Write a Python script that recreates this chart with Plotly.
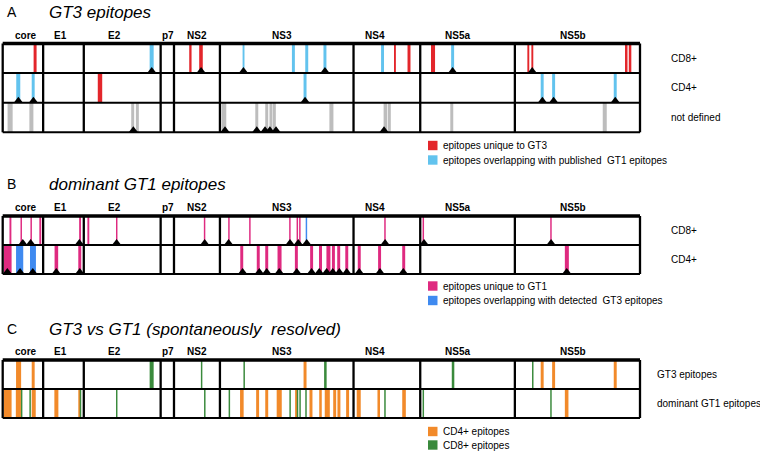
import plotly.graph_objects as go

FONT = "Liberation Sans, Arial, Helvetica, sans-serif"
W, H = 760, 453

# ---------------- genome map (H77 amino-acid numbering) ----------------
PROTEINS = ["core", "E1", "E2", "p7", "NS2", "NS3", "NS4", "NS5a", "NS5b"]
PROTEIN_END = [191, 383, 746, 809, 1026, 1657, 1972, 2419, 3010]
PROTEIN_LABEL_AA = [108, 271, 526, 781, 916, 1321, 1758, 2148, 2694]
GENOME_START = 0

# ---------------- Panel A: GT3 epitopes (start aa, length aa) ----------------
A_CD8_UNIQUE = [(146, 14), (881, 11), (928, 17), (1848, 9), (1912, 14), (2023, 19),
                (2478, 9), (2497, 9), (2939, 12), (2957, 12)]
A_CD8_OVERLAP = [(694, 19), (1133, 9), (1366, 14), (1429, 14), (1515, 14), (1787, 14), (2118, 14)]
A_CD8_MARK = [704, 937, 1137, 1522, 2125, 2501]
A_CD4_UNIQUE = [(449, 21)]
A_CD4_OVERLAP = [(64, 19), (137, 14), (1421, 14), (2541, 14), (2595, 14), (2886, 14)]
A_CD4_MARK = [74, 145, 1428, 2549, 2602, 2893]
A_ND = [(23, 24), (126, 19), (607, 14), (629, 14), (1034, 22), (1193, 14), (1240, 14),
        (1260, 14), (1276, 14), (1543, 19), (1799, 17), (1819, 14), (2114, 14), (2834, 19)]
A_ND_MARK = [617, 1050, 1200, 1239, 1262, 1291, 1801]

# ---------------- Panel B: dominant GT1 epitopes ----------------
B_CD8_UNIQUE = [(32, 9), (84, 7), (131, 7), (173, 9), (361, 9), (400, 9), (535, 7), (950, 7),
                (1065, 7), (1164, 7), (1353, 7), (1388, 7), (1400, 7), (1802, 7), (1983, 7), (2586, 7)]
B_CD8_OVERLAP = [(1431, 7)]
B_CD8_MARK = [95, 132, 362, 538, 954, 1067, 1357, 1396, 1436, 1806, 1990, 2590]
B_CD4_UNIQUE = [(6, 36), (245, 17), (357, 14), (1122, 14), (1200, 14), (1240, 14), (1298, 19),
                (1380, 14), (1452, 14), (1494, 14), (1529, 19), (1555, 14), (1580, 14), (1618, 14),
                (1677, 14), (1773, 14), (1887, 14), (2655, 19)]
B_CD4_OVERLAP = [(63, 34), (129, 28)]
B_CD4_MARK = [22, 82, 142, 253, 364, 1133, 1212, 1247, 1306, 1389, 1459, 1495, 1530, 1559,
              1590, 1625, 1684, 1782, 1892, 2664]

# ---------------- Panel C: GT3 vs GT1 ----------------
C_GT3_CD4 = [(63, 24), (137, 14), (1421, 14), (2541, 14), (2595, 14), (2886, 14)]
C_GT3_CD8 = [(694, 19), (936, 7), (1137, 7), (1518, 12), (2121, 12), (2500, 7)]
C_GT1_CD4 = [(6, 36), (62, 24), (137, 19), (244, 19), (357, 12), (1121, 17), (1197, 14), (1240, 14),
             (1294, 24), (1381, 9), (1449, 14), (1495, 12), (1521, 24), (1561, 14), (1581, 14),
             (1622, 14), (1672, 19), (1770, 12), (1887, 17), (2655, 17)]
C_GT1_CD8 = [(86, 7), (126, 7), (364, 7), (535, 7), (951, 7), (1067, 7), (1354, 7), (1389, 7),
             (1401, 7), (1429, 7), (1802, 7), (1983, 7), (2586, 7)]

# ---------------- styles ----------------
RED = "#e3262b"
LBLUE = "#62c3ee"
GRAY = "#bdbdbd"
MAGENTA = "#df2a80"
BLUE = "#3f8af0"
ORANGE = "#f28a2a"
GREEN = "#3a8a3c"

# layout geometry (pixels, y axis = pixel rows)
A_TOP, A_ROW = 43.5, 29.6
B_TOP, B_ROW = 216.0, 29.0
C_TOP, C_ROW = 360.0, 29.0

AA_PER_PX = 3010 / 637.3
X0 = -2.7 * AA_PER_PX
X1 = X0 + W * AA_PER_PX

fig = go.Figure()


def add_bars(epis, top, h, color):
    if not epis:
        return
    fig.add_trace(go.Bar(
        x=[s + l / 2 for s, l in epis], y=[h] * len(epis), base=[top] * len(epis),
        width=[l for s, l in epis], marker=dict(color=color, line=dict(width=0)),
        showlegend=False, hoverinfo="skip"))


def add_marks(pos, bottom):
    fig.add_trace(go.Scatter(
        x=pos, y=[bottom - 2] * len(pos), mode="markers", cliponaxis=False,
        marker=dict(symbol="triangle-up", size=8, color="black", line=dict(width=0)),
        showlegend=False, hoverinfo="skip"))


# Panel A
add_bars(A_CD8_UNIQUE, A_TOP, A_ROW, RED)
add_bars(A_CD8_OVERLAP, A_TOP, A_ROW, LBLUE)
add_bars(A_CD4_UNIQUE, A_TOP + A_ROW, A_ROW, RED)
add_bars(A_CD4_OVERLAP, A_TOP + A_ROW, A_ROW, LBLUE)
add_bars(A_ND, A_TOP + 2 * A_ROW, A_ROW, GRAY)
# Panel B
add_bars(B_CD8_UNIQUE, B_TOP, B_ROW, MAGENTA)
add_bars(B_CD8_OVERLAP, B_TOP, B_ROW, BLUE)
add_bars(B_CD4_UNIQUE, B_TOP + B_ROW, B_ROW, MAGENTA)
add_bars(B_CD4_OVERLAP, B_TOP + B_ROW, B_ROW, BLUE)
# Panel C
add_bars(C_GT3_CD4, C_TOP, C_ROW, ORANGE)
add_bars(C_GT3_CD8, C_TOP, C_ROW, GREEN)
add_bars(C_GT1_CD4, C_TOP + C_ROW, C_ROW, ORANGE)
add_bars(C_GT1_CD8, C_TOP + C_ROW, C_ROW, GREEN)

shapes = []


def frame(top, row_h, nrows):
    bottom = top + row_h * nrows
    for xv in [GENOME_START] + PROTEIN_END:
        shapes.append(dict(type="line", xref="x", yref="y", x0=xv, x1=xv, y0=top, y1=bottom,
                           line=dict(color="black", width=2.3)))
    for i in range(1, nrows + 1):
        yy = top + row_h * i
        shapes.append(dict(type="line", xref="x", yref="y", x0=GENOME_START, x1=PROTEIN_END[-1],
                           y0=yy, y1=yy, line=dict(color="black", width=2)))
    shapes.append(dict(type="line", xref="x", yref="y", x0=GENOME_START, x1=PROTEIN_END[-1],
                       y0=top, y1=top, line=dict(color="black", width=3.5)))


frame(A_TOP, A_ROW, 3)
frame(B_TOP, B_ROW, 2)
frame(C_TOP, C_ROW, 2)

add_marks(A_CD8_MARK, A_TOP + A_ROW)
add_marks(A_CD4_MARK, A_TOP + 2 * A_ROW)
add_marks(A_ND_MARK, A_TOP + 3 * A_ROW)
add_marks(B_CD8_MARK, B_TOP + B_ROW)
add_marks(B_CD4_MARK, B_TOP + 2 * B_ROW)

ann = []


def text(xpx, ypx, s, size=10, anchor="left", color="black"):
    ann.append(dict(x=xpx / W, y=ypx, xref="paper", yref="y", text=s, showarrow=False,
                    xanchor=anchor, yanchor="middle", font=dict(family=FONT, size=size, color=color)))


def protein_labels(ypx):
    for name, xa in zip(PROTEINS, PROTEIN_LABEL_AA):
        ann.append(dict(x=xa, y=ypx, xref="x", yref="y", text="<b>" + name + "</b>", showarrow=False,
                        xanchor="center", yanchor="middle", font=dict(family=FONT, size=10, color="black")))


def legend(ypx, color, label):
    shapes.append(dict(type="rect", xref="paper", yref="y", x0=428 / W, x1=437.5 / W,
                       y0=ypx - 4.7, y1=ypx + 4.7, fillcolor=color, line=dict(width=0)))
    text(441, ypx, label, 10)


# Panel titles
text(5, 12, "A", 14)
text(47, 12, "<i>GT3 epitopes</i>", 17)
text(5, 184, "B", 14)
text(47, 184, "<i>dominant GT1 epitopes</i>", 17)
text(5, 329, "C", 14)
text(47, 329, "<i>GT3 vs GT1 (spontaneously\u00a0 resolved)</i>", 17)

protein_labels(35.5)
protein_labels(207.5)
protein_labels(351.5)

# row labels
text(669, A_TOP + A_ROW * 0.5, "CD8+")
text(669, A_TOP + A_ROW * 1.5, "CD4+")
text(669, A_TOP + A_ROW * 2.5, "not defined")
text(669, B_TOP + B_ROW * 0.5, "CD8+")
text(669, B_TOP + B_ROW * 1.5, "CD4+")
text(655, C_TOP + C_ROW * 0.5, "GT3 epitopes")
text(655, C_TOP + C_ROW * 1.5, "dominant GT1 epitopes")

# legends
legend(145.5, RED, "epitopes unique to GT3")
legend(160.0, LBLUE, "epitopes overlapping with published\u00a0 GT1 epitopes")
legend(286.0, MAGENTA, "epitopes unique to GT1")
legend(300.5, BLUE, "epitopes overlapping with detected\u00a0 GT3 epitopes")
legend(431.5, ORANGE, "CD4+ epitopes")
legend(445.0, GREEN, "CD8+ epitopes")

fig.update_layout(
    width=W, height=H, margin=dict(l=0, r=0, t=0, b=0),
    paper_bgcolor="white", plot_bgcolor="white",
    barmode="overlay", showlegend=False, hovermode=False,
    xaxis=dict(range=[X0, X1], visible=False, fixedrange=True),
    yaxis=dict(range=[H, 0], visible=False, fixedrange=True),
    shapes=shapes, annotations=ann,
    font=dict(family=FONT),
)

fig.write_html("out.html", config={"displayModeBar": False, "staticPlot": True},
               post_script="document.body.style.margin='0';document.body.style.overflow='hidden';")
